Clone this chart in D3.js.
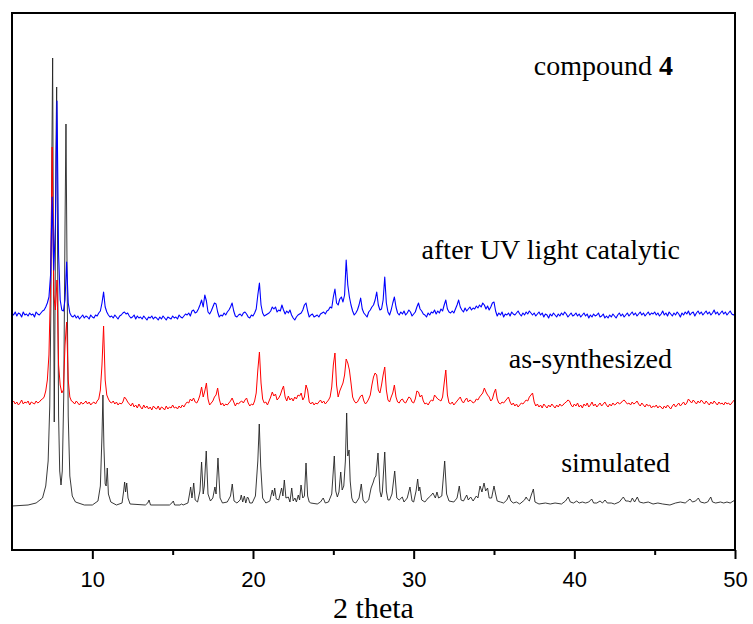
<!DOCTYPE html>
<html>
<head>
<meta charset="utf-8">
<script src="https://cdn.jsdelivr.net/npm/d3@7"></script>
<style>
  body { margin: 0; background: #fff; }
  svg { display: block; }
</style>
</head>
<body>
<div id="chart"></div>
<script>
// XRD patterns of compound 4: simulated / as-synthesized / after UV light catalytic

// x axis
const xDomain = [5, 50];
const majorTicks = [10, 20, 30, 40, 50];
const minorTicks = [15, 25, 35, 45];

// vertical offsets (a.u.) of each pattern
const offsets = { simulated: 44, asSynth: 145, afterUV: 235 };

// simulated pattern: [2theta, intensity above baseline]
const simulated = [
  [5.0,0],[6.0,1],[6.5,3],[6.9,8],[7.1,20],[7.25,45],[7.35,100],[7.42,200],[7.48,350],[7.53,448],
  [7.58,250],[7.63,84],[7.68,200],[7.73,350],[7.78,419],[7.84,250],[7.9,90],[7.97,35],[8.05,21],
  [8.13,35],[8.22,110],[8.3,280],[8.36,382],[8.42,250],[8.5,90],[8.6,30],[8.75,10],[8.95,4],[9.5,1],
  [10.0,1],[10.35,5],[10.5,20],[10.6,70],[10.66,111],[10.72,60],[10.8,22],[10.86,20],[10.93,38],
  [11.0,12],[11.15,4],[11.5,1],[11.85,3],[11.95,15],[12.01,24],[12.07,14],[12.14,23],[12.22,8],
  [12.35,2],[13.3,1],[13.45,3],[13.53,6],[13.62,1],[14.8,1],[14.95,3],[15.04,5],[15.12,1],[15.45,1],
  [15.56,2],[15.65,1],[15.95,3],[16.05,12],[16.12,19],[16.2,8],[16.25,14],[16.31,23],[16.4,6],
  [16.55,4],[16.7,15],[16.8,44],[16.9,12],[16.97,20],[17.09,55],[17.2,12],[17.35,5],[17.5,8],
  [17.63,19],[17.7,12],[17.82,48],[17.95,8],[18.1,3],[18.4,4],[18.6,10],[18.71,22],[18.82,5],
  [19.0,3],[19.2,6],[19.27,11],[19.36,4],[19.46,10],[19.55,3],[19.65,9],[19.71,8],[19.8,3],[19.95,3],
  [20.15,10],[20.3,45],[20.39,82],[20.48,40],[20.6,8],[20.8,3],[21.05,5],[21.2,16],[21.28,10],
  [21.35,18],[21.45,7],[21.6,6],[21.78,18],[21.86,10],[21.95,26],[22.05,8],[22.2,9],[22.3,4],
  [22.41,18],[22.5,5],[22.61,8],[22.7,4],[22.82,11],[22.9,6],[22.99,21],[23.1,8],[23.2,10],
  [23.3,43],[23.4,10],[23.5,4],[23.6,3],[24.0,2],[24.2,4],[24.37,8],[24.5,3],[24.7,4],[24.9,12],
  [25.06,50],[25.15,15],[25.25,9],[25.35,14],[25.46,34],[25.55,16],[25.65,20],[25.75,45],[25.83,93],
  [25.9,50],[25.98,56],[26.05,25],[26.15,8],[26.25,4],[26.4,3],[26.6,8],[26.74,22],[26.85,6],
  [27.0,3],[27.2,6],[27.35,18],[27.49,24],[27.56,28],[27.65,30],[27.78,53],[27.9,15],[27.98,9],
  [28.05,14],[28.2,54],[28.3,15],[28.4,6],[28.5,6],[28.65,12],[28.82,35],[28.95,8],[29.1,6],
  [29.29,9],[29.4,4],[29.6,8],[29.77,19],[29.9,5],[30.0,4],[30.15,15],[30.25,27],[30.32,15],
  [30.38,19],[30.5,6],[30.7,4],[30.9,8],[31.05,10],[31.2,13],[31.35,8],[31.45,14],[31.55,8],
  [31.75,10],[31.93,45],[32.05,12],[32.2,5],[32.5,4],[32.7,8],[32.84,20],[32.95,6],[33.1,5],
  [33.3,11],[33.4,6],[33.55,9],[33.7,5],[33.9,10],[34.0,8],[34.13,20],[34.25,14],[34.38,23],
  [34.48,15],[34.6,18],[34.7,8],[34.85,8],[35.0,20],[35.1,12],[35.2,5],[35.4,4],[35.6,3],[35.8,6],
  [35.93,11],[36.05,5],[36.2,3],[36.4,4],[36.6,2],[36.9,6],[37.0,9],[37.07,7],[37.2,5],[37.3,10],
  [37.45,17],[37.55,4],[37.8,2],[38.2,3],[38.5,2],[38.8,3],[39.2,2],[39.45,5],[39.62,9],[39.75,4],
  [39.95,3],[40.15,5],[40.3,3],[40.5,4],[40.7,3],[40.9,4],[41.08,7],[41.2,3],[41.4,3],[41.6,5],
  [41.75,3],[41.91,6],[42.05,3],[42.3,3],[42.5,2],[42.8,4],[43.05,9],[43.2,5],[43.35,5],[43.5,4],
  [43.61,8],[43.75,4],[43.92,9],[44.05,4],[44.3,3],[44.6,4],[44.9,2],[45.2,3],[45.5,2],[45.95,1],
  [46.3,3],[46.6,4],[46.9,3],[47.05,5],[47.2,7],[47.35,4],[47.55,5],[47.72,8],[47.85,4],[48.1,3],
  [48.3,4],[48.49,9],[48.6,4],[48.8,3],[49.1,4],[49.3,3],[49.5,4],[49.7,3],[50.0,6]
];

// measured patterns, sampled every 0.1 deg: [start 2theta, values at +0.0 ... +0.9]
const asSynthRows = [
  [5, 2,4,1,3,0,2,5,1,3,2],
  [6, 4,0,3,2,1,4,2,3,5,6],
  [7, 8,14,25,50,120,258,110,95,125,40],
  [8, 20,12,15,60,83,25,8,4,3,1],
  [9, 4,2,0,3,1,2,4,1,3,0],
  [10, 2,3,1,4,6,15,40,79,25,10],
  [11, 6,3,2,4,1,3,0,2,1,3],
  [12, 8,6,3,1,-1,2,-2,0,-3,1],
  [13, -2,-4,0,-3,-1,-4,-2,-5,-1,-3],
  [14, -4,-1,-5,-2,-3,-5,-1,-4,-2,-3],
  [15, 0,-3,-2,-4,-1,-3,0,-2,1,3],
  [16, 2,6,4,7,3,2,5,10,18,8],
  [17, 14,22,6,0,2,4,8,10,17,6],
  [18, 0,2,-1,1,0,2,4,7,3,-1],
  [19, 2,1,3,4,2,5,7,2,-1,1],
  [20, 0,4,12,35,53,22,6,2,3,0],
  [21, 4,8,13,9,11,5,7,10,15,19],
  [22, 8,4,9,5,7,4,8,6,10,9],
  [23, 12,5,8,20,15,3,1,3,0,2],
  [24, 1,3,5,2,4,1,3,5,8,18],
  [25, 40,52,20,8,14,18,22,30,46,42],
  [26, 35,22,8,4,2,3,6,9,10,4],
  [27, 1,3,6,10,20,28,32,30,15,12],
  [28, 20,30,38,15,5,3,8,12,20,8],
  [29, 3,2,5,6,3,2,5,8,7,3],
  [30, 2,6,14,13,8,10,4,1,2,0],
  [31, 3,5,4,10,8,6,5,4,8,22],
  [32, 35,10,2,1,3,0,2,4,6,8],
  [33, 4,2,5,7,3,5,4,2,3,6],
  [34, 5,8,10,12,17,13,10,8,4,6],
  [35, 12,16,6,2,1,3,2,4,6,8],
  [36, 3,0,2,-1,1,-2,0,2,1,3],
  [37, 5,4,8,10,12,3,-1,1,-2,0],
  [38, -3,1,-1,-3,0,-2,1,-1,-3,0],
  [39, -2,1,-1,0,2,3,5,4,0,-2],
  [40, 1,-1,2,-2,0,-3,1,-1,2,-2],
  [41, 0,3,-1,1,-2,0,2,-1,1,3],
  [42, 0,-2,1,-1,2,0,1,3,1,2],
  [43, 4,5,3,1,2,0,3,1,2,4],
  [44, 1,-1,2,0,-2,1,-1,0,-3,-1],
  [45, -2,0,-3,-1,-2,-4,-1,-3,0,-2],
  [46, -4,-1,1,-2,0,2,-1,1,3,0],
  [47, 2,6,4,2,5,3,1,4,2,5],
  [48, 3,1,4,2,0,3,1,4,2,0],
  [49, 3,1,2,0,3,1,2,0,2,4],
  [50, 6]
];

const afterUVRows = [
  [5, 2,0,3,-1,2,1,-2,3,0,1],
  [6, -1,2,0,1,-2,3,1,0,2,4],
  [7, 5,8,12,18,40,118,45,90,214,60],
  [8, 15,5,4,15,53,12,2,-1,-2,0],
  [9, -3,-1,-4,-2,0,-3,-1,-2,-4,0],
  [10, -2,-3,0,-1,2,4,12,23,8,3],
  [11, 0,-2,-1,-3,0,-2,-4,-1,0,2],
  [12, 3,1,2,-1,-3,-2,0,-4,-1,-3],
  [13, -2,-4,-1,-3,-5,-2,-3,-1,-4,-2],
  [14, -3,-5,-2,-4,-1,-3,-5,-2,-3,-4],
  [15, -1,-3,-2,-4,0,-2,-3,-1,1,0],
  [16, 2,-1,4,5,2,3,6,10,15,8],
  [17, 20,14,3,1,4,8,12,11,3,-2],
  [18, 0,-1,2,0,3,5,8,12,4,-1],
  [19, -2,0,1,-1,2,3,1,-2,-3,0],
  [20, -1,2,6,20,32,10,2,-1,0,1],
  [21, 2,4,8,6,8,3,5,4,10,5],
  [22, 1,4,2,5,0,-3,-5,-2,0,1],
  [23, 2,5,10,12,4,-2,0,1,-2,-1],
  [24, 0,-2,1,2,3,1,4,5,8,7],
  [25, 18,26,12,10,16,18,13,20,55,30],
  [26, 18,10,4,0,2,5,10,17,6,2],
  [27, 0,-2,3,5,8,10,15,23,10,5],
  [28, 6,15,38,12,3,0,5,12,18,8],
  [29, 2,0,3,1,4,0,2,5,3,-1],
  [30, 1,3,8,12,6,4,1,0,-2,2],
  [31, 0,3,2,5,1,4,2,6,4,10],
  [32, 15,6,3,2,4,2,6,10,15,8],
  [33, 5,3,7,4,6,8,5,7,6,9],
  [34, 7,10,8,12,10,6,9,5,8,12],
  [35, 13,4,-1,2,0,3,-2,1,0,2],
  [36, -1,3,1,0,2,4,1,-1,2,0],
  [37, 3,1,4,2,0,2,-1,1,3,0],
  [38, 2,-2,1,0,-3,1,-1,2,0,-2],
  [39, 1,-1,2,0,3,1,-2,0,2,-1],
  [40, 0,2,-1,1,-2,0,2,-1,1,-3],
  [41, 0,-2,1,-1,0,2,-2,-1,1,-3],
  [42, -1,-3,0,-2,1,-1,-3,0,2,-1],
  [43, 1,-2,0,2,-1,1,3,0,2,-1],
  [44, 1,3,0,2,-1,1,3,0,2,1],
  [45, 3,0,2,-1,1,4,0,2,-1,3],
  [46, 1,-1,2,0,3,1,-2,2,0,3],
  [47, 1,4,0,2,3,-1,2,4,1,3],
  [48, 0,2,4,1,3,0,2,5,1,3],
  [49, 0,2,4,1,3,0,2,4,1,0],
  [50, 1]
];

function rowsToPoints(rows) {
  const pts = [];
  rows.forEach(r => {
    r.slice(1).forEach((v, j) => pts.push([+(r[0] + j * 0.1).toFixed(1), v]));
  });
  return pts;
}

const W = 753, H = 624;
const plot = { left: 12, right: 735, top: 13, bottom: 550 };
const serif = "'Liberation Serif', 'Times New Roman', serif";

const svg = d3.select("#chart").append("svg")
  .attr("width", W)
  .attr("height", H);

const x = d3.scaleLinear().domain(xDomain).range([plot.left, plot.right]);
const y = d3.scaleLinear().domain([0, 537]).range([plot.bottom, plot.top]);

svg.append("clipPath").attr("id", "clip")
  .append("rect")
  .attr("x", plot.left).attr("y", plot.top)
  .attr("width", plot.right - plot.left).attr("height", plot.bottom - plot.top);

const series = [
  { pts: simulated, off: offsets.simulated, color: "#222", w: 0.9 },
  { pts: rowsToPoints(asSynthRows), off: offsets.asSynth, color: "#ff0000", w: 1 },
  { pts: rowsToPoints(afterUVRows), off: offsets.afterUV, color: "#0000ff", w: 1.1 }
];

const lines = svg.append("g").attr("clip-path", "url(#clip)");
series.forEach(s => {
  const line = d3.line()
    .x(d => x(d[0]))
    .y(d => y(s.off + d[1]));
  lines.append("path")
    .datum(s.pts)
    .attr("d", line)
    .attr("fill", "none")
    .attr("stroke", s.color)
    .attr("stroke-width", s.w)
    .attr("stroke-linejoin", "round");
});

// bottom axis: major + minor ticks
svg.append("g").attr("transform", `translate(0,${plot.bottom})`)
  .call(d3.axisBottom(x).tickValues(majorTicks).tickSize(9).tickPadding(12).tickFormat(d3.format("d")))
  .call(g => g.select(".domain").remove())
  .call(g => g.selectAll("line").attr("stroke", "#000").attr("stroke-width", 2))
  .call(g => g.selectAll("text")
    .attr("fill", "#000")
    .style("font-family", "'Liberation Sans', Arial, sans-serif")
    .style("font-size", "22px"));

svg.append("g").attr("transform", `translate(0,${plot.bottom})`)
  .call(d3.axisBottom(x).tickValues(minorTicks).tickSize(5).tickFormat(""))
  .call(g => g.select(".domain").remove())
  .call(g => g.selectAll("line").attr("stroke", "#000").attr("stroke-width", 2));

// frame
svg.append("rect")
  .attr("x", plot.left).attr("y", plot.top)
  .attr("width", plot.right - plot.left).attr("height", plot.bottom - plot.top)
  .attr("fill", "none")
  .attr("stroke", "#000")
  .attr("stroke-width", 2);

// axis title
svg.append("text")
  .attr("x", (plot.left + plot.right) / 2)
  .attr("y", 618)
  .attr("text-anchor", "middle")
  .style("font-family", serif)
  .style("font-size", "30px")
  .text("2 theta");

// pattern labels
const title = svg.append("text")
  .attr("x", 673).attr("y", 75)
  .attr("text-anchor", "end")
  .style("font-family", serif)
  .style("font-size", "28px");
title.append("tspan").text("compound ");
title.append("tspan").style("font-weight", "bold").text("4");

[
  { t: "after UV light catalytic", x: 680, y: 259 },
  { t: "as-synthesized", x: 672, y: 368 },
  { t: "simulated", x: 670, y: 472 }
].forEach(l => {
  svg.append("text")
    .attr("x", l.x).attr("y", l.y)
    .attr("text-anchor", "end")
    .style("font-family", serif)
    .style("font-size", "28px")
    .text(l.t);
});
</script>
</body>
</html>
